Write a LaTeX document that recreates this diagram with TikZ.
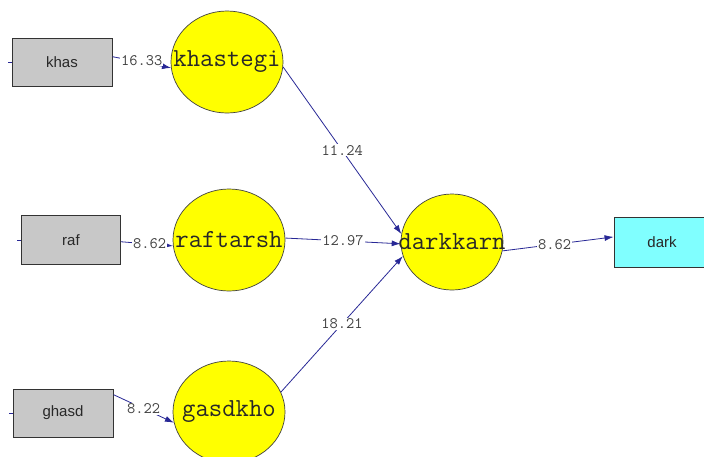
\documentclass[tikz,border=0pt]{standalone}
\usepackage{fontspec}
\setmainfont{Liberation Sans}
\usetikzlibrary{shapes.geometric,arrows.meta}
\definecolor{boxgray}{RGB}{200,200,200}
\definecolor{lvyellow}{RGB}{255,255,0}
\definecolor{obcyan}{RGB}{128,255,255}
\definecolor{pathblue}{RGB}{40,40,150}
\definecolor{txtdark}{RGB}{40,40,40}
\tikzset{
  obsbox/.style={draw=black!80, line width=0.9pt, fill=boxgray, minimum width=100pt, minimum height=48pt, inner sep=0pt, font=\fontsize{15}{15}\selectfont, text=txtdark},
  latent/.style={ellipse, draw=black!75, line width=0.7pt, fill=lvyellow, minimum width=112pt, minimum height=102pt, inner sep=0pt, font=\ttfamily\fontsize{26}{26}\selectfont, text=txtdark},
  pathline/.style={draw=pathblue, line width=0.8pt, -{Latex[length=9pt,width=6pt]}},
  coef/.style={fill=white, inner sep=1pt, font=\ttfamily\fontsize{16}{16}\selectfont, text=black!75, pos=0.5},
  stub/.style={draw=pathblue, line width=0.8pt}
}
\begin{document}
\begin{tikzpicture}[x=1pt,y=-1pt]
\useasboundingbox[fill=white] (0,0) rectangle (704,456);
% observed boxes
\node[obsbox] (khas) at (62,62) {khas};
\node[obsbox, minimum width=99pt, minimum height=49pt] (raf) at (71,240) {raf};
\node[obsbox] (ghasd) at (63,413) {ghasd};
\node[obsbox, fill=obcyan, minimum width=96pt, minimum height=50pt] (dark) at (662,242) {dark};
% latent circles
\node[latent] (khastegi) at (227,62) {\makebox[0pt]{khastegi}};
\node[latent] (raftarsh) at (229,240) {\makebox[0pt]{raftarsh}};
\node[latent] (gasdkho) at (229,412) {\makebox[0pt]{gasdkho}};
\node[latent, minimum width=102pt, minimum height=96pt] (darkkarn) at (452,242) {\makebox[0pt]{darkkarn}};
% error stubs
\coordinate (ekhas) at (8,62);
\coordinate (eraf) at (17,240);
\coordinate (eghasd) at (9,413);
\draw[stub] (ekhas) -- (khas.west);
\draw[stub] (eraf) -- (raf.west);
\draw[stub] (eghasd) -- (ghasd.west);
% measurement paths
\draw[pathline] (khas.6) -- node[coef, yshift=2pt] {16.33} (khastegi.186);
\draw[pathline] (raf.-2) -- node[coef, pos=0.55] {8.62} (raftarsh.186);
\draw[pathline] (ghasd.20) -- node[coef, pos=0.5] {8.22} (gasdkho.191);
% structural paths
\draw[pathline] (khastegi.-5) -- node[coef] {11.24} (darkkarn.171);
\draw[pathline] (raftarsh.2) -- node[coef] {12.97} (darkkarn.182);
\draw[pathline] (gasdkho.21) -- node[coef] {18.21} (darkkarn.196);
\draw[pathline] (darkkarn.-10) -- node[coef, pos=0.47] {8.62} (dark.174);
\end{tikzpicture}
\end{document}
